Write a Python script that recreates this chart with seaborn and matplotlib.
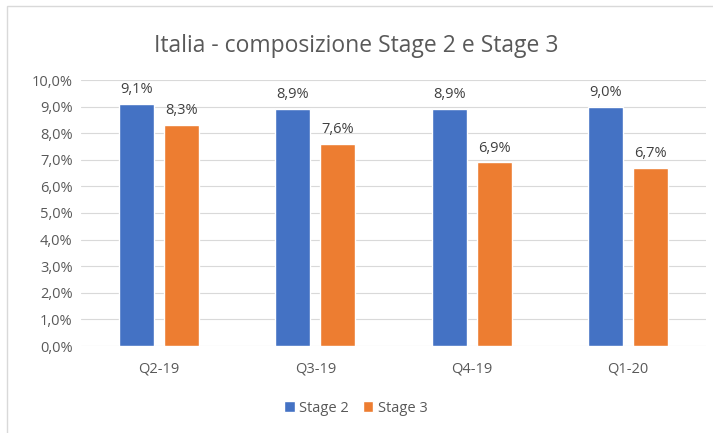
import matplotlib
matplotlib.use("Agg")
import matplotlib.pyplot as plt
import seaborn as sns
import pandas as pd
from matplotlib.patches import Rectangle

categories = ["Q2-19", "Q3-19", "Q4-19", "Q1-20"]
stage2 = [9.1, 8.9, 8.9, 9.0]
stage3 = [8.3, 7.6, 6.9, 6.7]
series_names = ["Stage 2", "Stage 3"]
colors = ["#4472C4", "#ED7D31"]
yticks = [0, 1, 2, 3, 4, 5, 6, 7, 8, 9, 10]

df = pd.DataFrame({
    "cat": categories * 2,
    "val": stage2 + stage3,
    "series": [series_names[0]] * 4 + [series_names[1]] * 4,
})

sns.set_theme(style="white")
plt.rcParams["font.family"] = ["Open Sans", "DejaVu Sans"]

fig = plt.figure(figsize=(7.13, 4.33), dpi=100)
fig.patches.append(Rectangle((7 / 713, -0.01), 1.0, 1 - 6 / 433 + 0.01,
                             transform=fig.transFigure, fill=False,
                             edgecolor="#D9D9D9", linewidth=1.0))
ax = fig.add_axes([81 / 713, 1 - 346 / 433, (706 - 81) / 713, (346 - 80) / 433])

sns.barplot(data=df, x="cat", y="val", hue="series", palette=colors,
            width=0.577, gap=0.22, ax=ax, legend=True, saturation=1)

ax.set_ylim(0, 10)
ax.set_yticks(yticks)
ax.set_yticklabels([f"{v:.1f}".replace(".", ",") + "%" for v in yticks])
ax.grid(axis="y", color="#D9D9D9", linewidth=0.8)
ax.set_axisbelow(True)
for s in ["top", "right", "left", "bottom"]:
    ax.spines[s].set_visible(False)
ax.tick_params(axis="both", length=0, labelsize=10.5, colors="#595959", pad=6)
ax.tick_params(axis="x", pad=11)
ax.set_xlabel("")
ax.set_ylabel("")

for cont, vals in zip(ax.containers, [stage2, stage3]):
    ax.bar_label(cont, labels=[f"{v:.1f}".replace(".", ",") + "%" for v in vals],
                 padding=5, fontsize=10.5, color="#404040")

fig.text(0.5, 1 - 46 / 433, "Italia - composizione Stage 2 e Stage 3",
         ha="center", va="center", fontsize=16.5, color="#595959")

handles, labels = ax.get_legend_handles_labels()
ax.legend(handles, labels, loc="center", bbox_to_anchor=(356 / 713, 1 - 408 / 433),
          bbox_transform=fig.transFigure, ncol=2, frameon=False, fontsize=10.5,
          labelcolor="#595959", handlelength=0.7, handleheight=0.7,
          handletextpad=0.3, columnspacing=1.0)

fig.savefig("out.png", dpi=100)
